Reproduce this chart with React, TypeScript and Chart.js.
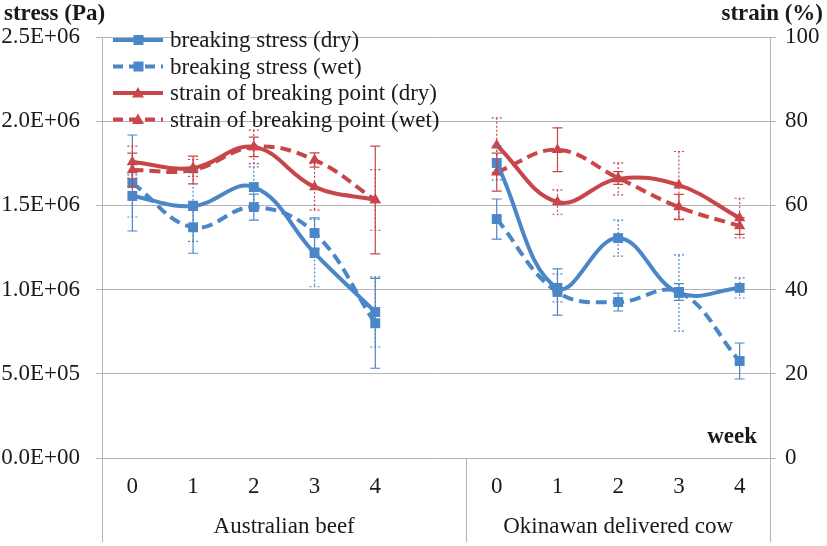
import React, { useEffect, useRef } from "react";
import { Chart, registerables } from "chart.js";
Chart.register(...registerables);

// ---------- data ----------
const categories = ["0", "1", "2", "3", "4", "", "0", "1", "2", "3", "4"];
const groups = ["Australian beef", "Okinawan delivered cow"];
const groupSizes = [6, 5];

const stressDry = [1.556e6, 1.496e6, 1.609e6, 1.217e6, 0.867e6, null, 1.752e6, 1.01e6, 1.306e6, 0.98e6, 1.01e6];
const stressDryErr = [0.125e6, 0.21e6, 0.12e6, 0.2e6, 0.208e6, null, 0.1e6, 0.083e6, 0.107e6, 0.226e6, 0.06e6];
const stressWet = [1.633e6, 1.37e6, 1.49e6, 1.336e6, 0.8e6, null, 1.419e6, 0.986e6, 0.926e6, 0.986e6, 0.576e6];
const stressWetErr = [0.285e6, 0.154e6, 0.077e6, 0.09e6, 0.267e6, null, 0.119e6, 0.137e6, 0.053e6, 0.05e6, 0.107e6];
const strainDry = [70.3, 68.9, 73.9, 64.4, 61.3, null, 74.3, 60.8, 66.3, 64.8, 57.0];
const strainDryErr = [3.8, 2.0, 4.0, 5.5, 7.2, null, 6.5, 2.9, 3.8, 8.0, 4.7];
const strainWet = [68.4, 68.4, 73.9, 70.8, 61.3, null, 67.9, 73.2, 66.5, 59.6, 55.1];
const strainWetErr = [4.0, 3.3, 2.3, 1.7, 12.8, null, 4.5, 5.2, 1.5, 3.0, 2.0];

const seriesLabels = [
  "breaking stress (dry)",
  "breaking stress (wet)",
  "strain of breaking point (dry)",
  "strain of breaking point (wet)",
];

const stressTicks = { min: 0, max: 2.5e6, step: 5e5 };
const strainTicks = { min: 0, max: 100, step: 20 };

// ---------- styles ----------
const BLUE = "#4a86c8";
const RED = "#c84649";
const GRID = "#b4b4b4";
const TEXT = "#1a1a1a";
const FONT = "'Liberation Serif', 'Times New Roman', serif";
const FS = 23;

function fmtSci(v: number): string {
  if (v === 0) return "0.0E+00";
  const e = Math.floor(Math.log10(Math.abs(v)) + 1e-9);
  const m = v / Math.pow(10, e);
  return m.toFixed(1) + "E" + (e >= 0 ? "+" : "-") + String(Math.abs(e)).padStart(2, "0");
}

const errorBarPlugin = {
  id: "errbars",
  afterDatasetsDraw(chart: any) {
    const ctx = chart.ctx;
    const xScale = chart.scales.x;
    chart.data.datasets.forEach((ds: any) => {
      const errs = ds.errors;
      if (!errs) return;
      const yScale = chart.scales[ds.yAxisID];
      ds.data.forEach((v: number | null, i: number) => {
        if (v == null || errs[i] == null) return;
        const x = xScale.getPixelForValue(i);
        const yt = yScale.getPixelForValue(v + errs[i]);
        const yb = yScale.getPixelForValue(v - errs[i]);
        ctx.save();
        ctx.strokeStyle = ds.borderColor;
        ctx.lineWidth = 1.2;
        ctx.setLineDash(ds.errDash);
        ctx.beginPath();
        ctx.moveTo(x, yt);
        ctx.lineTo(x, yb);
        ctx.moveTo(x - 5, yt);
        ctx.lineTo(x + 5, yt);
        ctx.moveTo(x - 5, yb);
        ctx.lineTo(x + 5, yb);
        ctx.stroke();
        ctx.restore();
      });
    });
  },
};

const decorPlugin = {
  id: "decor",
  afterDraw(chart: any) {
    const ctx = chart.ctx;
    const area = chart.chartArea;
    const xs = chart.scales.x;
    const H = chart.height;
    ctx.save();
    // titles
    ctx.fillStyle = TEXT;
    ctx.font = `bold ${FS}px ${FONT}`;
    ctx.textBaseline = "middle";
    ctx.textAlign = "left";
    ctx.fillText("stress (Pa)", 4, 14);
    ctx.textAlign = "right";
    ctx.fillText("strain (%)", 823, 14);
    ctx.fillText("week", 757, 437);

    // category labels
    ctx.font = `${FS}px ${FONT}`;
    ctx.textAlign = "center";
    categories.forEach((c, i) => {
      if (!c) return;
      ctx.fillText(c, xs.getPixelForValue(i), 487);
    });
    // group labels & separators
    let start = 0;
    const seps: number[] = [];
    const step = xs.getPixelForValue(1) - xs.getPixelForValue(0);
    groups.forEach((g, gi) => {
      const n = groupSizes[gi];
      const left = xs.getPixelForValue(start) - step / 2;
      const right = xs.getPixelForValue(start + n - 1) + step / 2;
      ctx.fillText(g, (left + right) / 2, 527);
      seps.push(left, right);
      start += n;
    });
    ctx.strokeStyle = GRID;
    ctx.lineWidth = 1;
    ctx.setLineDash([]);
    ctx.beginPath();
    Array.from(new Set(seps.map((s) => Math.round(s)))).forEach((s) => {
      ctx.moveTo(s + 0.5, area.bottom);
      ctx.lineTo(s + 0.5, H - 4);
    });
    ctx.stroke();

    // legend
    const rows = [
      { color: BLUE, dash: [], marker: "square" },
      { color: BLUE, dash: [10, 6], marker: "square" },
      { color: RED, dash: [], marker: "triangle" },
      { color: RED, dash: [10, 6], marker: "triangle" },
    ];
    rows.forEach((r, i) => {
      const y = 40 + i * 26.5;
      ctx.strokeStyle = r.color;
      ctx.lineWidth = 4;
      ctx.setLineDash(r.dash);
      ctx.beginPath();
      ctx.moveTo(113, y);
      ctx.lineTo(163, y);
      ctx.stroke();
      ctx.setLineDash([]);
      ctx.fillStyle = r.color;
      if (r.marker === "square") {
        ctx.fillRect(133.5, y - 5, 10, 10);
      } else {
        ctx.beginPath();
        ctx.moveTo(138, y - 6);
        ctx.lineTo(144, y + 4.5);
        ctx.lineTo(132, y + 4.5);
        ctx.closePath();
        ctx.fill();
      }
      ctx.fillStyle = TEXT;
      ctx.font = `${FS}px ${FONT}`;
      ctx.textAlign = "left";
      ctx.fillText(seriesLabels[i], 170, y + 1);
    });
    ctx.restore();
  },
};

export default function App() {
  const ref = useRef<HTMLCanvasElement | null>(null);
  useEffect(() => {
    if (!ref.current) return;
    const mk = (
      label: string,
      data: (number | null)[],
      errs: (number | null)[],
      color: string,
      wet: boolean,
      axis: string,
      marker: string
    ): any => ({
      label,
      data,
      errors: errs,
      errDash: wet ? [] : [2, 2],
      yAxisID: axis,
      borderColor: color,
      backgroundColor: color,
      borderWidth: 4,
      borderDash: wet ? [11, 6] : [],
      tension: 0.4,
      spanGaps: false,
      pointStyle: marker,
      pointRadius: marker === "rect" ? 7 : 6.5,
      pointBorderWidth: 0,
      pointBackgroundColor: color,
    });
    const chart = new Chart(ref.current, {
      type: "line",
      data: {
        labels: categories,
        datasets: [
          mk(seriesLabels[0], stressDry, stressDryErr, BLUE, false, "y", "rect"),
          mk(seriesLabels[1], stressWet, stressWetErr, BLUE, true, "y", "rect"),
          mk(seriesLabels[2], strainDry, strainDryErr, RED, false, "y1", "triangle"),
          mk(seriesLabels[3], strainWet, strainWetErr, RED, true, "y1", "triangle"),
        ],
      },
      options: {
        responsive: false,
        animation: false,
        devicePixelRatio: 1,
        layout: { padding: { top: 37, left: 0, right: 0, bottom: 0 } },
        plugins: { legend: { display: false }, tooltip: { enabled: false }, title: { display: false } },
        scales: {
          x: {
            type: "category",
            offset: true,
            grid: { display: false, drawTicks: false },
            border: { display: false },
            ticks: { display: false },
            afterFit: (s: any) => {
              s.height = 88;
            },
          },
          y: {
            position: "left",
            min: stressTicks.min,
            max: stressTicks.max,
            ticks: {
              stepSize: stressTicks.step,
              callback: (v: any) => fmtSci(Number(v)),
              font: { family: FONT, size: FS },
              color: TEXT,
              padding: 16,
            },
            grid: { color: GRID, tickLength: 6, lineWidth: 1 },
            border: { color: GRID },
            afterFit: (s: any) => {
              s.width = 102;
            },
          },
          y1: {
            position: "right",
            min: strainTicks.min,
            max: strainTicks.max,
            ticks: {
              stepSize: strainTicks.step,
              font: { family: FONT, size: FS },
              color: TEXT,
              padding: 9,
            },
            grid: { color: GRID, tickLength: 6, drawOnChartArea: false },
            border: { color: GRID },
            afterFit: (s: any) => {
              s.width = 57;
            },
          },
        },
      },
      plugins: [errorBarPlugin, decorPlugin],
    });
    return () => chart.destroy();
  }, []);
  return (
    <div style={{ position: "absolute", left: 0, top: 0, width: 827, height: 546, background: "#fff" }}>
      <canvas ref={ref} width={827} height={546} />
    </div>
  );
}
